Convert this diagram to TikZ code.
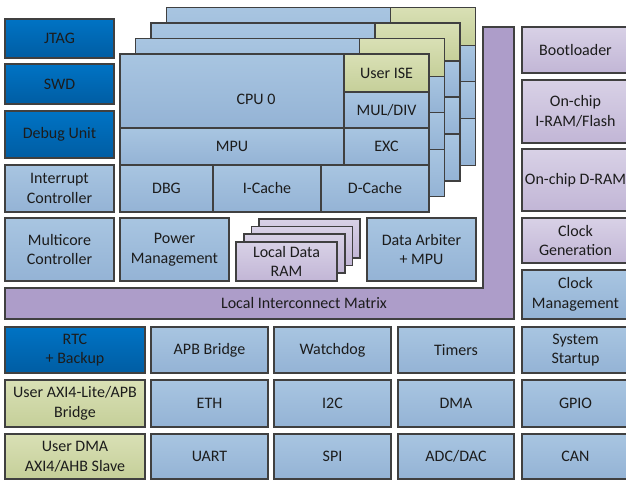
\documentclass[tikz,border=0pt]{standalone}
\usepackage{fontspec}
\setmainfont{Carlito}
\definecolor{edge}{HTML}{404040}
\definecolor{txt}{HTML}{1C1C1C}
\definecolor{lbT}{HTML}{A8C5E1}
\definecolor{lbB}{HTML}{94B3D5}
\definecolor{dbT}{HTML}{0073C4}
\definecolor{dbB}{HTML}{005DA3}
\definecolor{puT}{HTML}{D8D1E6}
\definecolor{puB}{HTML}{C2B6D6}
\definecolor{grT}{HTML}{D9E0B5}
\definecolor{grB}{HTML}{C5CF99}
\definecolor{imC}{HTML}{AD9DC9}
\tikzset{
  blk/.style={draw=edge, line width=1.7pt, inner sep=0pt, align=center, text=txt,
    font=\fontsize{16}{19.5}\selectfont},
  lb/.style={blk, top color=lbT, bottom color=lbB},
  db/.style={blk, top color=dbT, bottom color=dbB},
  pu/.style={blk, top color=puT, bottom color=puB},
  gr/.style={blk, top color=grT, bottom color=grB},
  imbar/.style={draw=edge, line width=1.7pt, fill=imC, line join=miter},
  imlabel/.style={inner sep=0pt, text=txt, font=\fontsize{16}{19.5}\selectfont},
}
\newcommand\bx[7]{\node[#6, minimum width={(#4)-(#2)}, minimum height={(#5)-(#3)}] (#1) at ({((#2)+(#4))/2},{((#3)+(#5))/2}) {#7};}
\newcommand\cpulayer[2]{%
\bx{#1a}{120+#2}{54-#2}{344+#2}{128-#2}{lb}{}
\bx{#1b}{344+#2}{54-#2}{429+#2}{92-#2}{gr}{}
\bx{#1c}{344+#2}{92-#2}{429+#2}{128-#2}{lb}{}
\bx{#1d}{120+#2}{128-#2}{344+#2}{165-#2}{lb}{}
\bx{#1e}{344+#2}{128-#2}{429+#2}{165-#2}{lb}{}
\bx{#1f}{120+#2}{165-#2}{213+#2}{212-#2}{lb}{}
\bx{#1g}{213+#2}{165-#2}{321+#2}{212-#2}{lb}{}
\bx{#1h}{321+#2}{165-#2}{429+#2}{212-#2}{lb}{}}
\begin{document}
\begin{tikzpicture}[x=1pt,y=-1pt]
\useasboundingbox (0,0) rectangle (626,481);
\clip (0,0) rectangle (626,481);
% left column
\bx{jtag}{5}{19}{114}{58}{db}{JTAG}
\bx{swd}{5}{64}{114}{104}{db}{SWD}
\bx{dbgu}{5}{111}{114}{158}{db}{Debug Unit}
\bx{intc}{5}{165}{114}{212}{lb}{Interrupt\\Controller}
\bx{mcc}{5}{218}{114}{281}{lb}{Multicore\\Controller}
% CPU stack
\cpulayer{Lc}{46.5}
\cpulayer{Lb}{31}
\cpulayer{La}{15.5}
\bx{cpu}{120}{54}{344}{128}{lb}{}
\node[imlabel] (cpulbl) at (256,99) {CPU 0};
\bx{ise}{344}{54}{429}{92}{gr}{User ISE}
\bx{mul}{344}{92}{429}{128}{lb}{MUL/DIV}
\bx{mpu}{120}{128}{344}{165}{lb}{MPU}
\bx{exc}{344}{128}{429}{165}{lb}{EXC}
\bx{dbg}{120}{165}{213}{212}{lb}{DBG}
\bx{icache}{213}{165}{321}{212}{lb}{I-Cache}
\bx{dcache}{321}{165}{429}{212}{lb}{D-Cache}
% power, RAM, arbiter
\bx{pwr}{120}{218}{229}{281}{lb}{Power\\Management}
\bx{ramc}{259.1}{218.9}{360.1}{257.9}{pu}{}
\bx{ramb}{251.4}{226.6}{352.4}{265.6}{pu}{}
\bx{rama}{243.7}{234.3}{344.7}{273.3}{pu}{}
\bx{ram}{236}{242}{337}{281}{pu}{Local Data\\RAM}
\bx{arb}{367}{218}{476}{281}{lb}{Data Arbiter\\+ MPU}
% interconnect
\draw[imbar] (5,288) -- (483,288) -- (483,27) -- (514,27) -- (514,319) -- (5,319) -- cycle;
\node[imlabel] (lim) at (304,303.5) {Local Interconnect Matrix};
% right column
\bx{boot}{522}{27}{629}{73}{pu}{Bootloader}
\bx{iram}{522}{80}{629}{143}{pu}{On-chip\\I-RAM/Flash}
\bx{dram}{522}{149}{629}{211}{pu}{On-chip D-RAM}
\bx{clkg}{522}{218}{629}{263}{pu}{Clock\\Generation}
\bx{clkm}{522}{270}{629}{319}{lb}{Clock\\Management}
% bottom rows
\bx{rtc}{5}{327}{145}{373}{db}{RTC\\+ Backup}
\bx{apb}{151}{327}{268}{373}{lb}{APB Bridge}
\bx{wdg}{274}{327}{391}{373}{lb}{Watchdog}
\bx{tim}{398}{327}{514}{373}{lb}{Timers}
\bx{sys}{522}{327}{629}{373}{lb}{System\\Startup}
\bx{axil}{5}{380}{145}{427}{gr}{User AXI4-Lite/APB\\Bridge}
\bx{eth}{151}{380}{268}{427}{lb}{ETH}
\bx{iic}{274}{380}{391}{427}{lb}{I2C}
\bx{dma}{398}{380}{514}{427}{lb}{DMA}
\bx{gpio}{522}{380}{629}{427}{lb}{GPIO}
\bx{udma}{5}{434}{145}{479}{gr}{User DMA\\AXI4/AHB Slave}
\bx{uart}{151}{434}{268}{479}{lb}{UART}
\bx{spi}{274}{434}{391}{479}{lb}{SPI}
\bx{adc}{398}{434}{514}{479}{lb}{ADC/DAC}
\bx{can}{522}{434}{629}{479}{lb}{CAN}
\end{tikzpicture}
\end{document}
